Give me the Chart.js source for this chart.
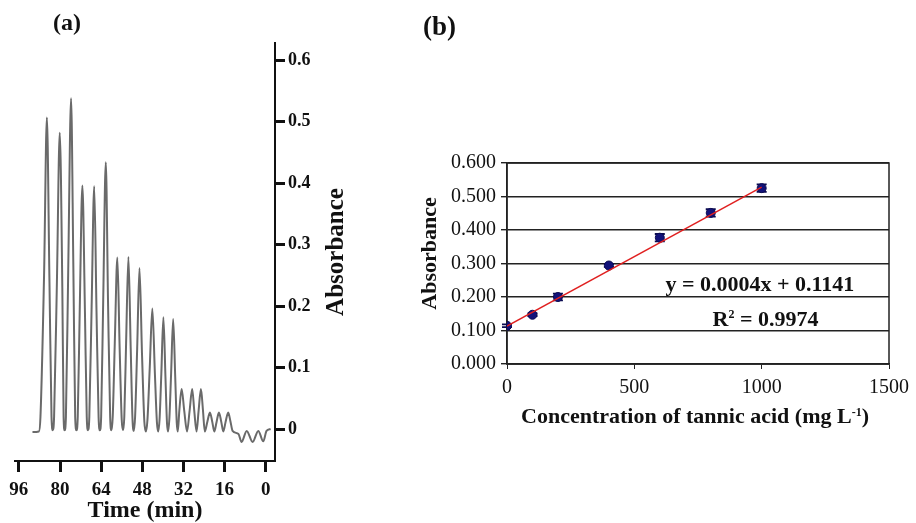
<!DOCTYPE html>
<html>
<head>
<meta charset="utf-8">
<script src="https://cdn.jsdelivr.net/npm/chart.js@4.4.0/dist/chart.umd.min.js"></script>
<style>
  html, body { margin: 0; padding: 0; background: #fff; }
  body { width: 916px; height: 523px; position: relative; overflow: hidden; }
  canvas { position: absolute; top: 0; }
  .tag { position: absolute; font-weight: bold; font-family: "Liberation Serif", serif; color: #111; z-index: 2; }
</style>
</head>
<body>
<canvas id="chartA" width="380" height="523" style="left:0"></canvas>
<canvas id="chartB" width="526" height="523" style="left:390px"></canvas>
<div class="tag" style="left:53px; top:10px; font-size:24px; line-height:24px;">(a)</div>
<div class="tag" style="left:423px; top:13px; font-size:27px; line-height:27px;">(b)</div>
<script>
// (a) flow-injection trace
const traceTime = [
  90.7, 88.2,
  87.6, 86.2, 85.1, 84.1, 83.3, 82.8,
  82.3, 81.2, 80.1, 79.1, 78.6, 78.2,
  77.7, 76.8, 75.7, 74.8, 74.1, 73.6,
  73.1, 72.3, 71.3, 70.3, 69.6, 69.1,
  68.6, 67.7, 66.7, 65.8, 65.0, 64.5,
  64.0, 63.2, 62.2, 61.3, 60.5, 60.0,
  59.5, 58.7, 57.7, 56.8, 56.0, 55.5,
  55.0, 54.3, 53.4, 52.5, 51.8, 51.3,
  50.8, 50.0, 49.1, 48.1, 47.2, 46.6,
  46.0, 45.1, 44.1, 43.1, 42.3, 41.8,
  41.3, 40.6, 39.8, 39.0, 38.4, 38.0,
  37.5, 36.8, 36.0, 35.2, 34.6, 34.2,
  33.6, 32.7, 31.7, 30.6,
  29.6, 28.6, 27.8, 26.9,
  26.1, 25.2, 24.4, 23.7,
  22.7, 21.7, 20.8, 20.0,
  19.1, 18.2, 17.3, 16.5,
  15.6, 14.6, 13.7, 12.9,
  10.6, 9.4, 7.4, 5.1, 2.9, 0.95, -0.3, -1.9
];
const traceAbs = [
  -0.005, -0.004,
  0.02, 0.25, 0.507, 0.24, 0.02, -0.002,
  0.02, 0.24, 0.482, 0.23, 0.02, -0.002,
  0.02, 0.26, 0.538, 0.26, 0.02, -0.002,
  0.02, 0.20, 0.396, 0.19, 0.02, -0.002,
  0.02, 0.20, 0.395, 0.19, 0.02, -0.002,
  0.02, 0.21, 0.434, 0.20, 0.02, -0.002,
  0.02, 0.14, 0.279, 0.13, 0.015, -0.002,
  0.02, 0.14, 0.280, 0.13, 0.015, -0.003,
  0.02, 0.13, 0.262, 0.12, 0.012, -0.004,
  0.015, 0.10, 0.196, 0.09, 0.01, -0.004,
  0.015, 0.09, 0.182, 0.085, 0.01, -0.004,
  0.015, 0.09, 0.179, 0.085, 0.01, -0.004,
  0.03, 0.065, 0.03, -0.004,
  0.03, 0.065, 0.03, -0.004,
  0.03, 0.065, 0.03, -0.004,
  0.012, 0.027, 0.012, -0.004,
  0.012, 0.027, 0.012, -0.004,
  0.012, 0.027, 0.012, -0.003,
  -0.008, -0.021, -0.003, -0.021, -0.003, -0.020, -0.003, 0.0
];
const timeTicks = [96, 80, 64, 48, 32, 16, 0];
const absTicksA = [0, 0.1, 0.2, 0.3, 0.4, 0.5, 0.6];

// (b) calibration
const concVals = [0, 100, 200, 400, 600, 800, 1000];
const absMeans = [0.114, 0.147, 0.200, 0.294, 0.377, 0.451, 0.525];
const absErr = [0.004, 0.004, 0.010, 0.004, 0.011, 0.011, 0.011];
const fitX = [0, 1000];
const fitY = [0.113, 0.528];
const concTicks = [0, 500, 1000, 1500];
const absTicksB = [0, 0.1, 0.2, 0.3, 0.4, 0.5, 0.6];

const SERIF = '"Liberation Serif", "Times New Roman", serif';
const INK = '#111';

function setTicks(list) {
  return function (scale) { scale.ticks = list.map(v => ({ value: v })); };
}

function drawParts(ctx, parts, cx, baseY) {
  let total = 0;
  parts.forEach(p => { ctx.font = p.font; total += ctx.measureText(p.t).width; });
  let x = cx - total / 2;
  parts.forEach(p => {
    ctx.font = p.font;
    ctx.fillText(p.t, x, baseY + (p.dy || 0));
    x += ctx.measureText(p.t).width;
  });
}

function drawVertical(ctx, text, font, cx, cy) {
  ctx.save();
  ctx.font = font;
  ctx.fillStyle = INK;
  ctx.textAlign = 'center';
  ctx.textBaseline = 'middle';
  ctx.translate(cx, cy);
  ctx.rotate(-Math.PI / 2);
  ctx.fillText(text, 0, 0);
  ctx.restore();
}

const titleA = {
  id: 'titleA',
  afterDraw(chart) {
    const { ctx, chartArea, scales } = chart;
    drawVertical(ctx, 'Absorbance', 'bold 25px ' + SERIF,
      scales.y.left + 62, (chartArea.top + chartArea.bottom) / 2);
  }
};

new Chart(document.getElementById('chartA'), {
  type: 'line',
  data: {
    datasets: [{
      data: traceTime.map((t, i) => ({ x: t, y: traceAbs[i] })),
      borderColor: '#6a6a6a',
      borderWidth: 2,
      pointRadius: 0,
      cubicInterpolationMode: 'monotone',
      fill: false
    }]
  },
  options: {
    responsive: false,
    animation: false,
    events: [],
    layout: { padding: { left: 15, top: 43, right: 0, bottom: 0 }, autoPadding: false },
    plugins: { legend: { display: false }, tooltip: { enabled: false } },
    scales: {
      x: {
        type: 'linear', reverse: true, min: -3.6, max: 97.5, position: 'bottom',
        afterBuildTicks: setTicks(timeTicks),
        afterFit(s) { s.height = 62; },
        grid: { drawOnChartArea: false, tickLength: 11, tickWidth: 3, tickColor: INK },
        border: { color: INK, width: 2 },
        ticks: { color: INK, font: { family: SERIF, size: 19, weight: 'bold' }, padding: 7, maxRotation: 0 },
        title: { display: true, text: 'Time (min)', color: INK, font: { family: SERIF, size: 24, weight: 'bold', lineHeight: 1 }, padding: { top: 0, bottom: 0 } }
      },
      y: {
        type: 'linear', position: 'right', min: -0.052, max: 0.628,
        afterBuildTicks: setTicks(absTicksA),
        afterFit(s) { s.width = 105; },
        grid: { drawOnChartArea: false, tickLength: 10, tickWidth: 3, tickColor: INK },
        border: { color: INK, width: 2 },
        ticks: {
          color: INK, font: { family: SERIF, size: 18, weight: 'bold' }, padding: 3,
          callback: v => v === 0 ? '0' : v.toFixed(1)
        }
      }
    }
  },
  plugins: [titleA]
});

const extrasB = {
  id: 'extrasB',
  beforeDatasetsDraw(chart) {
    const { ctx, chartArea: a, scales: { x, y } } = chart;
    ctx.save();
    ctx.strokeStyle = '#222';
    ctx.lineWidth = 1.5;
    ctx.strokeRect(a.left, a.top, a.right - a.left, a.bottom - a.top);
    ctx.strokeStyle = '#0b0b50';
    ctx.lineWidth = 1.8;
    concVals.forEach((c, i) => {
      const px = x.getPixelForValue(c);
      const hi = y.getPixelForValue(absMeans[i] + absErr[i]);
      const lo = y.getPixelForValue(absMeans[i] - absErr[i]);
      ctx.beginPath();
      ctx.moveTo(px, hi); ctx.lineTo(px, lo);
      ctx.moveTo(px - 5, hi); ctx.lineTo(px + 5, hi);
      ctx.moveTo(px - 5, lo); ctx.lineTo(px + 5, lo);
      ctx.stroke();
    });
    ctx.restore();
  },
  afterDraw(chart) {
    const { ctx, chartArea: a, scales: { x, y } } = chart;
    const big = 'bold 22px ' + SERIF;
    const sup = 'bold 12px ' + SERIF;
    ctx.save();
    ctx.fillStyle = INK;
    ctx.textAlign = 'left';
    ctx.textBaseline = 'alphabetic';
    drawParts(ctx, [{ t: 'y = 0.0004x + 0.1141', font: big }],
      x.getPixelForValue(993), y.getPixelForValue(0.217));
    drawParts(ctx, [
      { t: 'R', font: big },
      { t: '2', font: sup, dy: -8 },
      { t: ' = 0.9974', font: big }
    ], x.getPixelForValue(1015), y.getPixelForValue(0.112));
    drawParts(ctx, [
      { t: 'Concentration of tannic acid (mg L', font: big },
      { t: '-1', font: sup, dy: -7 },
      { t: ')', font: big }
    ], (a.left + a.right) / 2 - 3, a.bottom + 59);
    ctx.restore();
    drawVertical(ctx, 'Absorbance', big, a.left - 77, (a.top + a.bottom) / 2 - 10);
  }
};

new Chart(document.getElementById('chartB'), {
  type: 'scatter',
  data: {
    datasets: [{
      data: fitX.map((v, i) => ({ x: v, y: fitY[i] })),
      showLine: true,
      borderColor: '#e02020',
      borderWidth: 1.5,
      pointRadius: 0,
      order: 0
    }, {
      data: concVals.map((v, i) => ({ x: v, y: absMeans[i] })),
      pointRadius: 4.5,
      backgroundColor: '#12127a',
      borderColor: '#0b0b50',
      borderWidth: 1,
      order: 1
    }]
  },
  options: {
    responsive: false,
    animation: false,
    events: [],
    layout: { padding: { left: 0, top: 163, right: 19, bottom: 0 }, autoPadding: false },
    plugins: { legend: { display: false }, tooltip: { enabled: false } },
    scales: {
      x: {
        type: 'linear', min: 0, max: 1500,
        afterBuildTicks: setTicks(concTicks),
        afterFit(s) { s.height = 159; },
        grid: { drawOnChartArea: false, tickLength: 5, tickColor: '#222' },
        border: { color: '#222', width: 1.5 },
        ticks: { color: INK, font: { family: SERIF, size: 20 }, padding: 7, maxRotation: 0, callback: v => String(v) }
      },
      y: {
        type: 'linear', min: 0, max: 0.6,
        afterBuildTicks: setTicks(absTicksB),
        afterFit(s) { s.width = 117; },
        grid: { color: '#222', lineWidth: 1.4, tickLength: 6, tickColor: '#222' },
        border: { color: '#222', width: 1.5 },
        ticks: { color: INK, font: { family: SERIF, size: 20 }, padding: 5, callback: v => v.toFixed(3) }
      }
    }
  },
  plugins: [extrasB]
});
</script>
</body>
</html>
